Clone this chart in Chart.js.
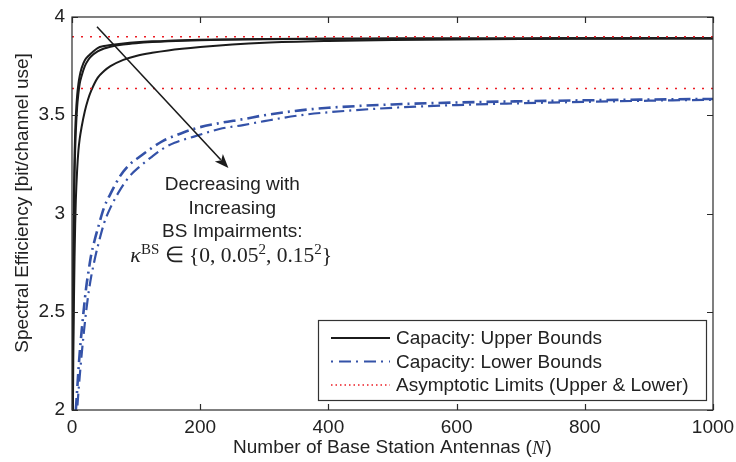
<!DOCTYPE html>
<html>
<head>
<meta charset="utf-8">
<script src="https://cdn.jsdelivr.net/npm/chart.js@4.4.1/dist/chart.umd.min.js"></script>
<style>
html,body{margin:0;padding:0;background:#fff;}
#wrap{width:736px;height:462px;position:relative;}
canvas{display:block;}
</style>
</head>
<body>
<div id="wrap"><canvas id="c" width="736" height="462"></canvas></div>
<script>
// ---------- data ----------
const nUpper = [1,2,3,4,5,6,8,10,12,15,20,25,30,40,50,60,80,100,125,150,200,250,300,400,500,600,700,800,900,1000];
const upperKappa0 = [2.00,2.75,3.10,3.30,3.42,3.50,3.60,3.66,3.70,3.74,3.78,3.80,3.815,3.842,3.852,3.857,3.865,3.871,3.876,3.879,3.884,3.886,3.888,3.889,3.890,3.891,3.891,3.892,3.892,3.892];
const upperKappa005 = [1.95,2.60,2.98,3.20,3.33,3.42,3.54,3.61,3.66,3.70,3.75,3.78,3.80,3.825,3.840,3.849,3.860,3.867,3.873,3.877,3.882,3.885,3.887,3.889,3.890,3.891,3.891,3.892,3.892,3.892];
const upperKappa015 = [1.80,2.25,2.55,2.78,2.95,3.07,3.22,3.32,3.38,3.44,3.52,3.58,3.625,3.69,3.725,3.75,3.782,3.802,3.818,3.830,3.847,3.860,3.869,3.878,3.883,3.886,3.888,3.889,3.890,3.891];

const nLower = [6,8,10,12,15,18,22,26,30,35,40,50,60,75,90,106,125,142,160,189,230,267,300,356,400,500,600,700,800,900,1000];
const lowerSmallKappa = [2.00,2.10,2.20,2.29,2.40,2.50,2.62,2.71,2.79,2.86,2.92,3.03,3.10,3.19,3.25,3.29,3.335,3.37,3.395,3.43,3.46,3.48,3.50,3.525,3.538,3.555,3.565,3.571,3.576,3.580,3.583];
const lowerLargeKappa = [1.90,2.00,2.09,2.17,2.28,2.38,2.50,2.60,2.68,2.76,2.83,2.95,3.03,3.12,3.19,3.24,3.29,3.33,3.36,3.39,3.43,3.45,3.47,3.50,3.515,3.538,3.552,3.561,3.568,3.574,3.579];

const limitN = [0, 1000];
const limitUpper = [3.90, 3.90];
const limitLower = [3.636, 3.636];

const xTicks = [0,200,400,600,800,1000];
const xTickLabels = ['0','200','400','600','800','1000'];
const yTicks = [2,2.5,3,3.5,4];
const yTickLabels = ['2','2.5','3','3.5','4'];

const arrowFrom = [39, 3.95];
const arrowTo = [244, 3.232];
const noteAnchor = [250, 3.145];
const noteLines = ['Decreasing with','Increasing','BS Impairments:'];

const legendLabels = ['Capacity: Upper Bounds','Capacity: Lower Bounds','Asymptotic Limits (Upper & Lower)'];
const xTitleText = 'Number of Base Station Antennas (';
const yTitleText = 'Spectral Efficiency [bit/channel use]';

// ---------- styles ----------
const BLACK = '#1b1b1b';
const BLUE = '#3452a8';
const RED = '#ec1c24';
const SANS = '"Liberation Sans", Arial, Helvetica, sans-serif';
const SERIF = '"Liberation Serif", "Times New Roman", serif';
const blueDash = [12,5,2,5];
const redDash = [2,7];

const pts = (xs, ys) => xs.map((x,i)=>({x:x, y:ys[i]}));

const lineDs = (data, color, width, dash) => ({
  data: data, borderColor: color, borderWidth: width, borderDash: dash || [],
  pointRadius: 0, fill: false, cubicInterpolationMode: 'monotone', tension: 0
});

const extras = {
  id: 'extras',
  afterDraw(chart) {
    const ctx = chart.ctx;
    const ca = chart.chartArea;
    const xs = chart.scales.x, ys = chart.scales.y;
    ctx.save();
    // box
    ctx.strokeStyle = '#2a2a2a';
    ctx.lineWidth = 1.2;
    ctx.setLineDash([]);
    ctx.strokeRect(ca.left, ca.top, ca.right - ca.left, ca.bottom - ca.top);
    // inward ticks
    const TL = 6;
    ctx.beginPath();
    xTicks.forEach(v => {
      const p = Math.round(xs.getPixelForValue(v)) + 0.5;
      ctx.moveTo(p, ca.bottom); ctx.lineTo(p, ca.bottom - TL);
      ctx.moveTo(p, ca.top); ctx.lineTo(p, ca.top + TL);
    });
    yTicks.forEach(v => {
      const p = Math.round(ys.getPixelForValue(v)) + 0.5;
      ctx.moveTo(ca.left, p); ctx.lineTo(ca.left + TL, p);
      ctx.moveTo(ca.right, p); ctx.lineTo(ca.right - TL, p);
    });
    ctx.stroke();

    // arrow
    const ax0 = xs.getPixelForValue(arrowFrom[0]), ay0 = ys.getPixelForValue(arrowFrom[1]);
    const ax1 = xs.getPixelForValue(arrowTo[0]), ay1 = ys.getPixelForValue(arrowTo[1]);
    const ang = Math.atan2(ay1 - ay0, ax1 - ax0);
    const HL = 14, HW = 5.5;
    ctx.strokeStyle = BLACK; ctx.fillStyle = BLACK; ctx.lineWidth = 1.6;
    ctx.beginPath();
    ctx.moveTo(ax0, ay0);
    ctx.lineTo(ax1 - Math.cos(ang)*HL*0.8, ay1 - Math.sin(ang)*HL*0.8);
    ctx.stroke();
    ctx.beginPath();
    ctx.moveTo(ax1, ay1);
    ctx.lineTo(ax1 - Math.cos(ang)*HL - Math.sin(ang)*HW, ay1 - Math.sin(ang)*HL + Math.cos(ang)*HW);
    ctx.lineTo(ax1 - Math.cos(ang)*HL*0.75, ay1 - Math.sin(ang)*HL*0.75);
    ctx.lineTo(ax1 - Math.cos(ang)*HL + Math.sin(ang)*HW, ay1 - Math.sin(ang)*HL - Math.cos(ang)*HW);
    ctx.closePath();
    ctx.fill();

    // annotation text
    const nx = xs.getPixelForValue(noteAnchor[0]);
    const ny = ys.getPixelForValue(noteAnchor[1]);
    ctx.fillStyle = '#222';
    ctx.font = '19px ' + SANS;
    ctx.textAlign = 'center'; ctx.textBaseline = 'middle';
    noteLines.forEach((t,i) => ctx.fillText(t, nx, ny + i*23.5));
    // kappa line (math)
    const big = '21.5px ' + SERIF, small = '15px ' + SERIF, ital = 'italic 22px ' + SERIF;
    const parts = [
      {t:'\u03BA', f:ital, dy:0},
      {t:'BS', f:small, dy:-8},
      {t:' \u2208 {0, 0.05', f:big, dy:0},
      {t:'2', f:small, dy:-8},
      {t:', 0.15', f:big, dy:0},
      {t:'2', f:small, dy:-8},
      {t:'}', f:big, dy:0}
    ];
    let tw = 0;
    parts.forEach(p => { ctx.font = p.f; p.w = ctx.measureText(p.t).width; tw += p.w; });
    let cx = nx - 1 - tw/2;
    const ky = ny + 3*23.5 - 1;
    ctx.textAlign = 'left'; ctx.textBaseline = 'alphabetic';
    parts.forEach(p => { ctx.font = p.f; ctx.fillText(p.t, cx, ky + 7 + p.dy); cx += p.w; });

    // axis titles
    ctx.font = '19px ' + SANS;
    ctx.fillStyle = '#222';
    ctx.textBaseline = 'middle';
    const xt1 = ctx.measureText(xTitleText).width;
    ctx.font = 'italic 19px ' + SERIF;
    const xtN = ctx.measureText('N').width;
    ctx.font = '19px ' + SANS;
    const xtC = ctx.measureText(')').width;
    const xtW = xt1 + xtN + xtC + 1;
    let tx = (ca.left + ca.right)/2 - xtW/2;
    const ty = 448;
    ctx.textAlign = 'left';
    ctx.fillText(xTitleText, tx, ty); tx += xt1;
    ctx.font = 'italic 19px ' + SERIF; ctx.fillText('N', tx, ty + 1); tx += xtN + 1;
    ctx.font = '19px ' + SANS; ctx.fillText(')', tx, ty);

    ctx.save();
    ctx.translate(23, 203);
    ctx.rotate(-Math.PI/2);
    ctx.textAlign = 'center';
    ctx.fillText(yTitleText, 0, 0);
    ctx.restore();

    // legend
    const lr = ca.right - 7, lb = ca.bottom - 10;
    const lw = 388, lh = 80;
    const ll = lr - lw, lt = lb - lh;
    ctx.fillStyle = '#fff';
    ctx.fillRect(ll, lt, lw, lh);
    ctx.strokeStyle = '#333'; ctx.lineWidth = 1.2; ctx.setLineDash([]);
    ctx.strokeRect(ll + 0.5, lt + 0.5, lw, lh);
    const rows = [lt + 18, lt + 41.5, lt + 65];
    const styles = [
      {c:BLACK, w:2, d:[]},
      {c:BLUE, w:2.2, d:[2,6,12,5,2,6,12,5]},
      {c:RED, w:1.3, d:[1.5,3]}
    ];
    rows.forEach((ry, i) => {
      ctx.strokeStyle = styles[i].c; ctx.lineWidth = styles[i].w; ctx.setLineDash(styles[i].d);
      ctx.beginPath(); ctx.moveTo(ll + 13, ry); ctx.lineTo(ll + 72, ry); ctx.stroke();
      ctx.setLineDash([]);
      ctx.fillStyle = '#222'; ctx.font = '19px ' + SANS; ctx.textAlign = 'left'; ctx.textBaseline = 'middle';
      ctx.fillText(legendLabels[i], ll + 78, ry + 1);
    });
    ctx.restore();
  }
};

new Chart(document.getElementById('c'), {
  type: 'line',
  data: {
    datasets: [
      lineDs(pts(limitN, limitUpper), RED, 1.5, redDash),
      lineDs(pts(limitN, limitLower), RED, 1.5, redDash),
      lineDs(pts(nLower, lowerLargeKappa), BLUE, 2.2, blueDash),
      lineDs(pts(nLower, lowerSmallKappa), BLUE, 2.6, blueDash),
      lineDs(pts(nUpper, upperKappa015), BLACK, 2),
      lineDs(pts(nUpper, upperKappa005), BLACK, 2),
      lineDs(pts(nUpper, upperKappa0), BLACK, 2)
    ]
  },
  options: {
    responsive: false,
    animation: false,
    devicePixelRatio: 1,
    layout: { padding: { top: 17, right: 23, left: 0, bottom: 0 } },
    plugins: { legend: { display: false }, tooltip: { enabled: false } },
    scales: {
      x: {
        type: 'linear', min: 0, max: 1000,
        afterBuildTicks: s => { s.ticks = xTicks.map(v => ({value: v})); },
        afterFit: s => { s.height = 52; s.paddingLeft = 0; s.paddingRight = 0; },
        grid: { display: false, drawTicks: false },
        border: { display: false },
        ticks: { font: { family: SANS, size: 19 }, color: '#222', padding: 6, maxRotation: 0,
                 callback: (v) => xTickLabels[xTicks.indexOf(v)] }
      },
      y: {
        type: 'linear', min: 2, max: 4,
        afterBuildTicks: s => { s.ticks = yTicks.map(v => ({value: v})); },
        afterFit: s => { s.width = 72; s.paddingTop = 0; s.paddingBottom = 0; },
        grid: { display: false, drawTicks: false },
        border: { display: false },
        ticks: { font: { family: SANS, size: 19 }, color: '#222', padding: 7,
                 callback: (v) => yTickLabels[yTicks.indexOf(v)] }
      }
    }
  },
  plugins: [extras]
});
</script>
</body>
</html>
